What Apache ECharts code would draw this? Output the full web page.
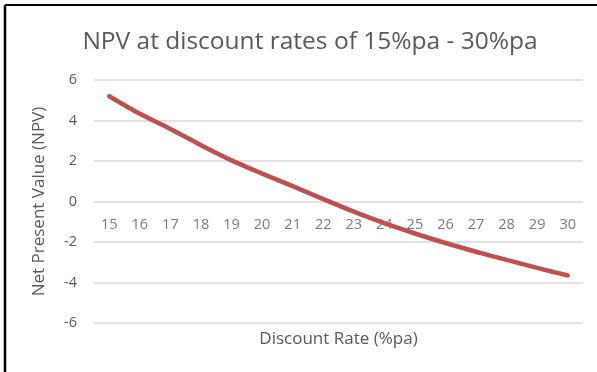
<!DOCTYPE html>
<html>
<head>
<meta charset="utf-8">
<script src="https://cdn.jsdelivr.net/npm/echarts@6/dist/echarts.min.js"></script>
<style>
  html, body { margin: 0; padding: 0; background: #fff; }
  #chart { width: 597px; height: 372px; }
</style>
</head>
<body>
<div id="chart"></div>
<script>
// Discount rates (%pa) and the resulting net present values
const rates = ['15', '16', '17', '18', '19', '20', '21', '22', '23', '24', '25', '26', '27', '28', '29', '30'];
const npv = [5.2, 4.33, 3.58, 2.78, 2.03, 1.38, 0.76, 0.12, -0.5, -1.07, -1.58, -2.05, -2.48, -2.88, -3.28, -3.65];

const FONT = '"Open Sans", sans-serif';
const TEXT = '#595959';

const chart = echarts.init(document.getElementById('chart'));
chart.setOption({
  animation: false,
  backgroundColor: '#fff',
  title: {
    text: 'NPV at discount rates of 15%pa - 30%pa',
    left: 305,
    top: 25,
    textAlign: 'center',
    textStyle: { fontFamily: FONT, fontSize: 24.5, fontWeight: 'normal', color: TEXT }
  },
  grid: { left: 94, right: 14, top: 80, bottom: 49 },
  xAxis: {
    type: 'category',
    data: rates,
    boundaryGap: true,
    name: 'Discount Rate (%pa)',
    nameLocation: 'middle',
    nameGap: 8,
    axisLine: { onZero: false, show: false },
    axisTick: { show: false },
    axisLabel: { show: false },
    nameTextStyle: { fontFamily: FONT, fontSize: 17, color: TEXT, verticalAlign: 'top' }
  },
  yAxis: {
    type: 'value',
    min: -6,
    max: 6,
    interval: 2,
    name: 'Net Present Value (NPV)',
    nameLocation: 'middle',
    nameGap: 46,
    nameTextStyle: { fontFamily: FONT, fontSize: 17, color: TEXT },
    axisLine: { show: false },
    axisTick: { show: false },
    axisLabel: { fontFamily: FONT, fontSize: 14.5, color: TEXT, margin: 17 },
    splitLine: { lineStyle: { color: '#D9D9D9', width: 1.5 } }
  },
  series: [
    {
      type: 'line',
      data: npv,
      smooth: 0.3,
      showSymbol: false,
      lineStyle: { color: '#C0504D', width: 4.5, cap: 'round' },
      itemStyle: { color: '#C0504D' },
      z: 3
    },
    {
      // category labels sitting just below the zero line
      type: 'scatter',
      data: rates.map(r => [r, 0]),
      symbolSize: 0,
      silent: true,
      label: {
        show: true,
        position: 'bottom',
        distance: 16,
        formatter: p => p.value[0],
        fontFamily: FONT,
        fontSize: 14.5,
        color: TEXT
      },
      z: 2
    }
  ],
  graphic: [
    { type: 'line', shape: { x1: 5, y1: 5, x2: 597, y2: 5 }, style: { stroke: '#000', lineWidth: 2 } },
    { type: 'line', shape: { x1: 5, y1: 5, x2: 5, y2: 372 }, style: { stroke: '#000', lineWidth: 2.5 } }
  ]
});
</script>
</body>
</html>
